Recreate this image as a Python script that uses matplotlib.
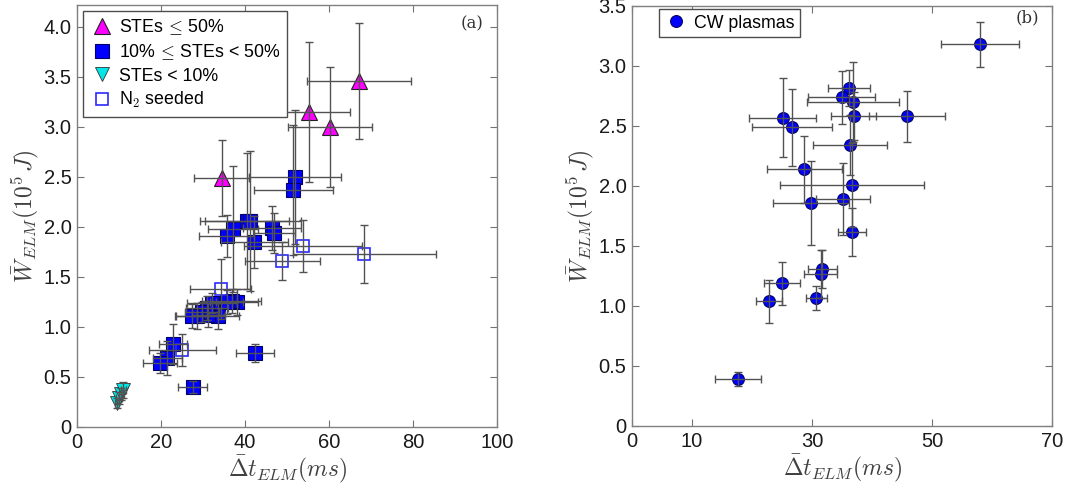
import numpy as np
import matplotlib
matplotlib.use("Agg")
import matplotlib.pyplot as plt

plt.rcParams['font.family'] = ['Liberation Sans', 'DejaVu Sans']
plt.rcParams['mathtext.fontset'] = 'cm'

# (a) STEs <= 50%
tri_x = [34.4, 55.3, 60.3, 67.1]
tri_y = [2.49, 3.15, 3.00, 3.46]
tri_xerr = [6.6, 9.7, 10.0, 12.3]
tri_yerr = [0.38, 0.70, 0.60, 0.58]

# (a) 10% <= STEs < 50%
sq_x = [51.9, 51.5, 40.4, 41.2, 37.1, 35.6, 46.4, 46.9, 42.2, 38.0, 36.8, 35.6,
        33.6, 32.1, 31.3, 30.9, 29.7, 28.5, 27.3, 22.9, 21.5, 19.7, 27.5, 42.4]
sq_y = [2.50, 2.37, 2.06, 2.06, 1.98, 1.91, 1.99, 1.94, 1.85, 1.25, 1.26, 1.25,
        1.11, 1.24, 1.12, 1.19, 1.15, 1.11, 1.11, 0.83, 0.69, 0.64, 0.40, 0.74]
sq_xerr = [11, 9.4, 10, 12, 6, 6.5, 7, 5, 8, 5, 7, 4,
           5, 6, 4, 5, 4, 5, 4, 3.4, 3.5, 4, 3.4, 4.6]
sq_yerr = [0.67, 0.65, 0.68, 0.70, 0.63, 0.21, 0.22, 0.20, 0.26, 0.13, 0.12, 0.12,
           0.13, 0.10, 0.12, 0.12, 0.10, 0.13, 0.12, 0.20, 0.17, 0.10, 0.06, 0.09]

# (a) STEs < 10%
dn_x = [9.5, 10.0, 10.5, 11.0]
dn_y = [0.24, 0.29, 0.33, 0.37]
dn_xerr = [0.5, 0.6, 0.6, 0.6]
dn_yerr = [0.05, 0.06, 0.06, 0.08]

# (a) N2 seeded
n2_x = [53.8, 68.4, 48.9, 34.2, 25.1]
n2_y = [1.81, 1.73, 1.66, 1.38, 0.77]
n2_xerr = [14, 17, 8.9, 7.3, 8]
n2_yerr = [0.26, 0.29, 0.19, 0.30, 0.16]

# (b) CW plasmas
cw_x = [57.9, 36.2, 34.9, 36.8, 25.1, 26.6, 36.9, 45.8, 36.3, 28.7,
        36.7, 35.2, 29.8, 36.6, 31.7, 31.4, 30.7, 25.0, 22.8, 17.7]
cw_y = [3.18, 2.82, 2.74, 2.70, 2.57, 2.49, 2.58, 2.58, 2.34, 2.14,
        2.01, 1.89, 1.86, 1.62, 1.31, 1.27, 1.07, 1.19, 1.04, 0.39]
cw_xerr = [6.5, 3.5, 5.6, 7.6, 5.6, 6.7, 3.8, 6.3, 6.2, 6.2,
           12, 4.5, 6.4, 2.3, 2.4, 2.8, 1.7, 3.0, 2.2, 3.8]
cw_yerr = [0.19, 0.15, 0.22, 0.33, 0.33, 0.32, 0.20, 0.21, 0.25, 0.28,
           0.35, 0.30, 0.35, 0.20, 0.16, 0.20, 0.10, 0.18, 0.18, 0.06]

xticks_a = [0, 20, 40, 60, 80, 100]
yticks_a = [0, 0.5, 1.0, 1.5, 2.0, 2.5, 3.0, 3.5, 4.0]
ylabels_a = ['0', '0.5', '1.0', '1.5', '2.0', '2.5', '3.0', '3.5', '4.0']
xticks_b = [0, 10, 30, 50, 70]
yticks_b = [0, 0.5, 1.0, 1.5, 2.0, 2.5, 3.0, 3.5]
ylabels_b = ['0', '0.5', '1.0', '1.5', '2.0', '2.5', '3.0', '3.5']

fig = plt.figure(figsize=(10.72, 4.95), dpi=100)
ax1 = fig.add_axes([0.0718, 0.1374, 0.392, 0.8525])
ax2 = fig.add_axes([0.5896, 0.1394, 0.392, 0.8485])


def series(ax, x, y, xe, ye, **mk):
    ax.errorbar(x, y, xerr=xe, yerr=ye, fmt='none', ecolor='0.32',
                elinewidth=1.0, capsize=3, capthick=1.0, zorder=3)
    return ax.plot(x, y, linestyle='none', zorder=2, **mk)[0]


h1 = series(ax1, tri_x, tri_y, tri_xerr, tri_yerr, marker='^', ms=12,
            mfc='#ff00ff', mec='#222222', mew=0.8)
h2 = series(ax1, sq_x, sq_y, sq_xerr, sq_yerr, marker='s', ms=9.5,
            mfc='#0000ff', mec='#000066', mew=0.8)
h3 = series(ax1, dn_x, dn_y, dn_xerr, dn_yerr, marker='v', ms=9.5,
            mfc='#00e5e5', mec='#333333', mew=0.6)
h4 = series(ax1, n2_x, n2_y, n2_xerr, n2_yerr, marker='s', ms=8.5,
            mfc='none', mec='#2a2aff', mew=1.2)
h5 = series(ax2, cw_x, cw_y, cw_xerr, cw_yerr, marker='o', ms=8.5,
            mfc='#0000ff', mec='#000066', mew=0.8)

ax1.legend([h1, h2, h3, h4],
           [r'STEs$\,\leq\,$50%', r'10%$\,\leq\,$STEs < 50%', 'STEs < 10%',
            r'N$_2$ seeded'],
           loc='upper left', bbox_to_anchor=(0.014, 0.986), fontsize=12.8,
           fancybox=False, edgecolor='0.3', framealpha=1, borderpad=0.35,
           handletextpad=0.3, handlelength=1.4, labelspacing=0.32,
           borderaxespad=0)
ax2.legend([h5], ['CW plasmas'], loc='upper left',
           bbox_to_anchor=(0.063, 0.992), fontsize=12.8, fancybox=False,
           edgecolor='0.3', framealpha=1, borderpad=0.3, handletextpad=0.3,
           handlelength=1.4, borderaxespad=0)

ax1.set_xlim(0, 100)
ax1.set_ylim(0, 4.22)
ax1.set_xticks(xticks_a)
ax1.set_yticks(yticks_a)
ax1.set_yticklabels(ylabels_a)
ax2.set_xlim(0, 70)
ax2.set_ylim(0, 3.5)
ax2.set_xticks(xticks_b)
ax2.set_yticks(yticks_b)
ax2.set_yticklabels(ylabels_b)

for ax, tag, ty in [(ax1, '(a)', 0.955), (ax2, '(b)', 0.972)]:
    ax.set_xlabel(r'$\bar{\Delta} t_{ELM}(ms)$', fontsize=17, labelpad=1,
                  color='0.25')
    ax.set_ylabel(r'$\bar{W}_{ELM}(10^5\,J)$', fontsize=17, labelpad=2,
                  color='0.25')
    ax.tick_params(direction='in', top=True, right=True, length=5,
                   width=0.8, color='0.45', labelsize=14.5, labelcolor='0.1',
                   pad=4)
    for s in ax.spines.values():
        s.set_color('0.5')
        s.set_linewidth(1.0)
    ax.text(0.94, ty, tag, transform=ax.transAxes, ha='center',
            va='center', fontsize=12, family='DejaVu Serif', color='0.2')

fig.savefig('out.png', dpi=100)
